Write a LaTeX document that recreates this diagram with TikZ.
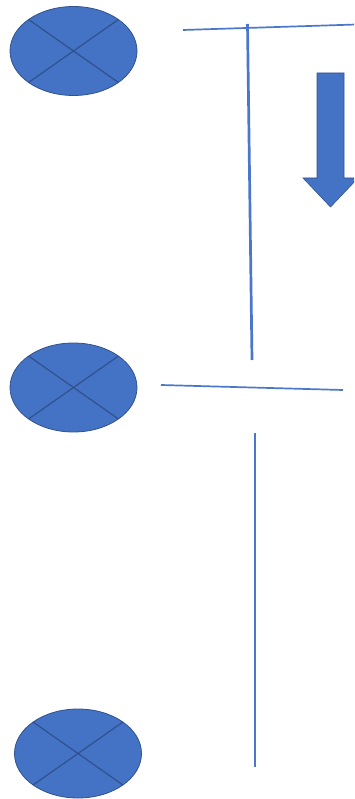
\documentclass[tikz,border=0pt]{standalone}
\usetikzlibrary{shapes.geometric,shapes.arrows,calc}
\definecolor{fillblue}{HTML}{4472C4}
\definecolor{darkblue}{HTML}{2F528F}
\definecolor{lineblue}{HTML}{4A76CC}
\begin{document}
\begin{tikzpicture}[x=1pt,y=-1pt,
  junction/.style={ellipse, draw=darkblue, line width=0.8pt, fill=fillblue,
    minimum width=127pt, minimum height=89pt, inner sep=0pt,
    path picture={
      \draw[darkblue, line width=1.2pt]
        ($(path picture bounding box.center)!0.7071!(path picture bounding box.north west)$) --
        ($(path picture bounding box.center)!0.7071!(path picture bounding box.south east)$);
      \draw[darkblue, line width=1.2pt]
        ($(path picture bounding box.center)!0.7071!(path picture bounding box.north east)$) --
        ($(path picture bounding box.center)!0.7071!(path picture bounding box.south west)$);
    }},
  thinline/.style={lineblue, line width=1.7pt},
  thickline/.style={lineblue, line width=2.7pt},
  bigarrow/.style={fill=fillblue, draw=darkblue, line width=0.6pt}
]
\useasboundingbox (0,0) rectangle (354,799);
\clip (0,0) rectangle (354,799);
\node[junction] (e1) at (73.5,51) {};
\node[junction] (e2) at (73.5,387.5) {};
\node[junction] (e3) at (78,753.5) {};

\coordinate (h1a) at (183,30);
\coordinate (h1b) at (356,24.5);
\coordinate (v1a) at (247.5,24);
\coordinate (v1b) at (252,360);
\coordinate (h2a) at (161,385);
\coordinate (h2b) at (343,390);
\coordinate (v2a) at (255,433);
\coordinate (v2b) at (255,767);

\draw[thinline] (h1a) -- (h1b);
\draw[thickline] (v1a) -- (v1b);
\draw[thinline] (h2a) -- (h2b);
\draw[thinline] (v2a) -- (v2b);

\draw[bigarrow] (317,73) -- (344,73) -- (344,178) -- (358,178) -- (330.5,207)
  -- (303,178) -- (317,178) -- cycle;
\end{tikzpicture}
\end{document}
